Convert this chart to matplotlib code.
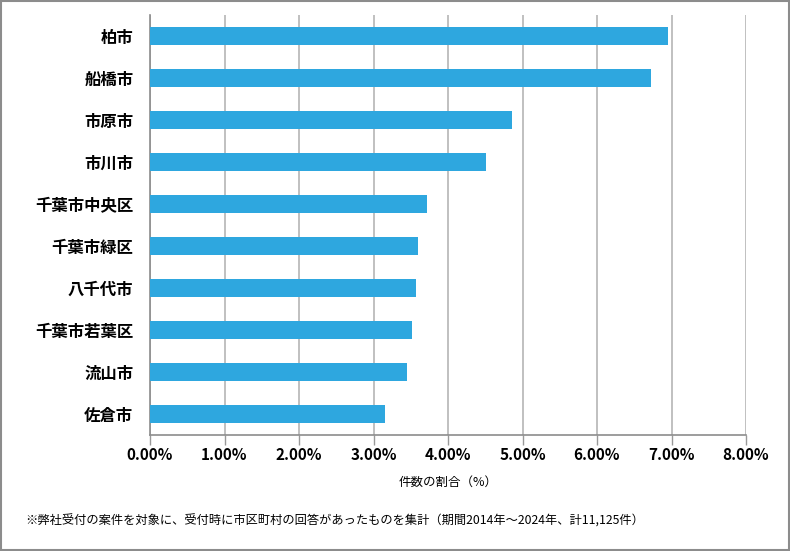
import matplotlib
matplotlib.use("Agg")
import matplotlib.pyplot as plt
from matplotlib.patches import Rectangle
from matplotlib.ticker import FuncFormatter, MultipleLocator

plt.rcParams["font.family"] = ["Noto Sans CJK JP", "DejaVu Sans"]

cities = ["柏市", "船橋市", "市原市", "市川市", "千葉市中央区",
          "千葉市緑区", "八千代市", "千葉市若葉区", "流山市", "佐倉市"]
shares = [6.95, 6.72, 4.86, 4.51, 3.72, 3.60, 3.57, 3.52, 3.45, 3.15]
note = "※弊社受付の案件を対象に、受付時に市区町村の回答があったものを集計（期間2014年～2024年、計11,125件）"

fig = plt.figure(figsize=(7.9, 5.51), dpi=100)
ax = fig.add_axes([150 / 790, 116 / 551, 596 / 790, 420 / 551])

ypos = list(range(len(cities)))
ax.barh(ypos, shares, height=0.41, color="#2EA7DF", zorder=3)
ax.set_ylim(len(cities) - 0.5, -0.5)
ax.set_xlim(0, 8)
ax.set_yticks(ypos)
ax.set_yticklabels(cities, fontsize=11.8, fontweight="bold")
ax.xaxis.set_major_locator(MultipleLocator(1))
ax.xaxis.set_major_formatter(FuncFormatter(lambda v, _: f"{v:.2f}%"))
for lbl in ax.get_xticklabels():
    lbl.set_fontweight("bold")
    lbl.set_fontsize(11)
ax.tick_params(axis="y", length=0, pad=12)
ax.tick_params(axis="x", length=7, color="#999999", width=1, pad=2)
ax.grid(axis="x", color="#b5b5b5", linewidth=1.2, zorder=0)
for side in ["top", "right"]:
    ax.spines[side].set_visible(False)
for side in ["left", "bottom"]:
    ax.spines[side].set_color("#8c8c8c")
    ax.spines[side].set_linewidth(1.2)

ax.set_xlabel("件数の割合（%）", fontsize=9, labelpad=9)
fig.text(25 / 790, 1 - 521 / 551, note, fontsize=8.8, va="center", ha="left")

fig.patches.append(Rectangle((0.001, 0.001), 0.998, 0.998, transform=fig.transFigure,
                             fill=False, edgecolor="#8c8c8c", linewidth=1.5))

fig.savefig("out.png", dpi=100)
